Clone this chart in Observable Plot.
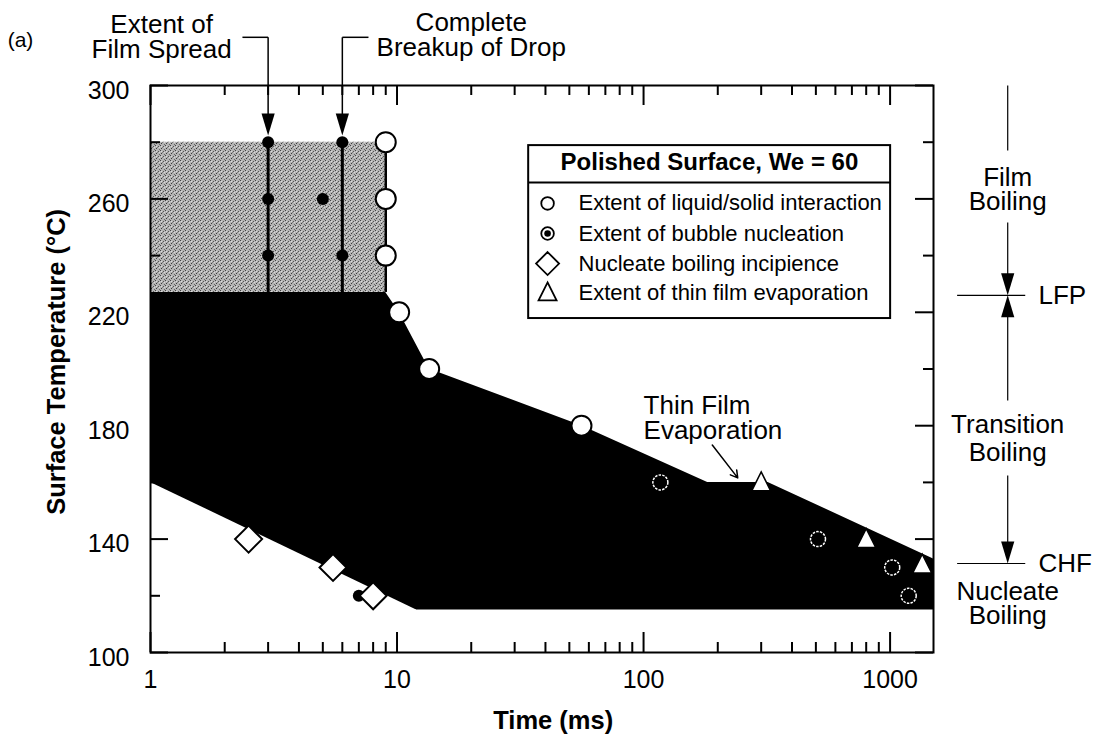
<!DOCTYPE html>
<html>
<head>
<meta charset="utf-8">
<script src="https://cdn.jsdelivr.net/npm/d3@7"></script>
<script src="https://cdn.jsdelivr.net/npm/@observablehq/plot@0.6"></script>
<style>
html, body { margin: 0; padding: 0; background: #fff; }
#chart svg { display: block; }
</style>
</head>
<body>
<svg width="0" height="0" style="position:absolute">
  <defs>
    <pattern id="grain" width="5" height="5" patternUnits="userSpaceOnUse">
      <rect width="5" height="5" fill="#b4b4b4"></rect>
      <rect x="0" y="0" width="1" height="1" fill="#444"></rect>
      <rect x="3" y="1" width="1" height="1" fill="#555"></rect>
      <rect x="1" y="3" width="1" height="1" fill="#3a3a3a"></rect>
      <rect x="4" y="4" width="1" height="1" fill="#666"></rect>
      <rect x="2" y="2" width="1" height="1" fill="#7a7a7a"></rect>
      <rect x="4" y="2" width="1" height="1" fill="#d8d8d8"></rect>
      <rect x="1" y="1" width="1" height="1" fill="#dcdcdc"></rect>
    </pattern>
  </defs>
</svg>
<div id="chart"></div>
<script>
// ---------------- data (time in ms, temperature in °C) ----------------
// Extent of liquid/solid interaction (open circles) on the envelope
const interactionTime = [9, 9, 9, 10.2, 13.5, 56];
const interactionTemp = [280, 260, 240, 220, 200, 180];
// Extent of liquid/solid interaction inside the dark region
const interactionInnerTime = [117, 510, 1020, 1190];
const interactionInnerTemp = [160, 140, 130, 120];
// Extent of bubble nucleation
const bubbleTime = [3, 3, 3, 5, 6, 6, 7];
const bubbleTemp = [280, 260, 240, 260, 280, 240, 120];
// Nucleate boiling incipience
const incipienceTime = [2.5, 5.5, 8];
const incipienceTemp = [140, 130, 120];
// Extent of thin film evaporation
const thinFilmTime = [300, 800, 1350];
const thinFilmTemp = [160, 140, 131];
// Envelope of the liquid/solid interaction region (black)
const envelopeUpperTime = [1, 9, 10.2, 13.5, 56, 182, 320, 1500];
const envelopeUpperTemp = [227, 227, 220, 200, 180, 160, 160, 133];
const envelopeLowerTime = [1, 12];
const envelopeLowerTemp = [160, 115];
const envelopeBaseTemp = 115;
// Film boiling region (grey)
const filmRegionTime = [1, 9];
const filmRegionTemp = [227, 280];
// Film spread / breakup times
const spreadTime = 3;
const breakupTime = 6;
// Boiling regime boundaries
const LFP = 226;
const CHF = 131.4;
// Axis ticks
const xTicksMajor = [1, 10, 100, 1000];
const xTickLabels = ["1", "10", "100", "1000"];
const xTicksMinor = [2,3,4,5,6,7,8,9, 20,30,40,50,60,70,80,90, 200,300,400,500,600,700,800,900];
const yTicksMajor = [100, 140, 180, 220, 260, 300];
const yTickLabels = ["100", "140", "180", "220", "260", "300"];
const yTicksMinor = [120, 160, 200, 240, 280];
const legendLabels = [
  "Extent of liquid/solid interaction",
  "Extent of bubble nucleation",
  "Nucleate boiling incipience",
  "Extent of thin film evaporation"
];
const legendTitle = "Polished Surface, We = 60";

// ---------------- build tables ----------------
const zip = (xs, ys) => xs.map((x, i) => ({t: x, T: ys[i]}));
const interaction = zip(interactionTime, interactionTemp);
const interactionInner = zip(interactionInnerTime, interactionInnerTemp);
const bubble = zip(bubbleTime, bubbleTemp);
const incipience = zip(incipienceTime, incipienceTemp);
const thinFilm = zip(thinFilmTime, thinFilmTemp);
const envUpper = zip(envelopeUpperTime, envelopeUpperTemp);
const envLower = zip(envelopeLowerTime, envelopeLowerTemp);
const xMajor = xTicksMajor.map((v, i) => ({v, label: xTickLabels[i]}));
const yMajor = yTicksMajor.map((v, i) => ({v, label: yTickLabels[i]}));

// ---------------- layout ----------------
const W = 1100, H = 739;
const mL = 150, mR = 167, mT = 85, mB = 87;
const frameW = W - mL - mR, frameH = H - mT - mB;
const font = "'Liberation Sans', Arial, Helvetica, sans-serif";

// custom symbols
const rOf = size => Math.sqrt(size / Math.PI);
const symDiamond = {draw(c, s) { const r = rOf(s); c.moveTo(0, -r); c.lineTo(r, 0); c.lineTo(0, r); c.lineTo(-r, 0); c.closePath(); }};
const symTriangle = {draw(c, s) { const r = rOf(s); c.moveTo(0, -r); c.lineTo(0.9 * r, 0.8 * r); c.lineTo(-0.9 * r, 0.8 * r); c.closePath(); }};
const symArrowDown = {draw(c, s) { const r = rOf(s); c.moveTo(0, 0); c.lineTo(0.3 * r, -r); c.lineTo(-0.3 * r, -r); c.closePath(); }};
const symArrowUp = {draw(c, s) { const r = rOf(s); c.moveTo(0, 0); c.lineTo(0.3 * r, r); c.lineTo(-0.3 * r, r); c.closePath(); }};

// annotation anchor positions (data space)
const regimeX = 3000;
const legendX1 = 34.2, legendX2 = 1005, legendTop = 278.8, legendBottom = 217.8, legendDivider = 265.8;
const legendSymX = 40.8, legendTextX = 54.5;
const legendRowsT = [258.4, 247.8, 237.2, 227];

const one = [0];

const chart = Plot.plot({
  width: W, height: H,
  marginLeft: mL, marginRight: mR, marginTop: mT, marginBottom: mB,
  x: {type: "log", domain: [1, 1500], axis: null},
  y: {domain: [100, 300], axis: null},
  style: {fontFamily: font, fontSize: "25px", background: "white", color: "black", overflow: "visible"},
  marks: [
    // black envelope region
    Plot.areaY(envUpper, {x: "t", y1: envelopeBaseTemp, y2: "T", fill: "black"}),
    Plot.areaY(envLower, {x: "t", y1: 100, y2: "T", fill: "white"}),
    // grey film-boiling region
    Plot.rect(one, {x1: filmRegionTime[0], x2: filmRegionTime[1], y1: filmRegionTemp[0], y2: filmRegionTemp[1], fill: "url(#grain)"}),
    // vertical lines
    Plot.ruleX([spreadTime, breakupTime], {y1: filmRegionTemp[0] - 0.5, y2: filmRegionTemp[1], stroke: "black", strokeWidth: 3}),
    Plot.ruleX([filmRegionTime[1]], {y1: filmRegionTemp[0], y2: filmRegionTemp[1], stroke: "black", strokeWidth: 2.5}),
    // bubble nucleation
    Plot.dot(bubble, {x: "t", y: "T", r: 6, fill: "black"}),
    // interaction circles
    Plot.dot(interaction, {x: "t", y: "T", r: 10, fill: "white", stroke: "black", strokeWidth: 2}),
    Plot.dot(interactionInner, {x: "t", y: "T", r: 7.5, fill: "none", stroke: "white", strokeWidth: 1.5, strokeDasharray: "2.5,1.2"}),
    // incipience diamonds
    Plot.dot(incipience, {x: "t", y: "T", symbol: symDiamond, r: 13.5, fill: "white", stroke: "black", strokeWidth: 2}),
    // thin film triangles
    Plot.dot(thinFilm, {x: "t", y: "T", symbol: symTriangle, r: 10.5, fill: "white", stroke: "black", strokeWidth: 1.5}),

    // frame and ticks
    Plot.frame({stroke: "black", strokeWidth: 2}),
    Plot.tickX(xTicksMajor, {x: d => d, insetTop: frameH - 20, strokeWidth: 2}),
    Plot.tickX(xTicksMajor, {x: d => d, insetBottom: frameH - 20, strokeWidth: 2}),
    Plot.tickX(xTicksMinor, {x: d => d, insetTop: frameH - 10, strokeWidth: 2}),
    Plot.tickX(xTicksMinor, {x: d => d, insetBottom: frameH - 10, strokeWidth: 2}),
    Plot.tickY(yTicksMajor, {y: d => d, insetRight: frameW - 18, strokeWidth: 2}),
    Plot.tickY(yTicksMajor, {y: d => d, insetLeft: frameW - 18, strokeWidth: 2}),
    Plot.tickY(yTicksMinor, {y: d => d, insetRight: frameW - 10, strokeWidth: 2}),
    Plot.tickY(yTicksMinor, {y: d => d, insetLeft: frameW - 10, strokeWidth: 2}),
    // tick labels
    Plot.text(xMajor, {x: "v", text: "label", frameAnchor: "bottom", dy: 35, fontSize: 25}),
    Plot.text(yMajor, {y: "v", text: "label", frameAnchor: "left", textAnchor: "end", dx: -21, dy: 5, fontSize: 25}),
    // axis titles
    Plot.text(["Time (ms)"], {x: 43, y: 76, text: d => d, fontWeight: "bold", fontSize: 25.5}),
    Plot.text(["Surface Temperature (°C)"], {x: 0.415, y: 202.5, text: d => d, rotate: -90, fontWeight: "bold", fontSize: 25.5}),
    Plot.text(["(a)"], {x: 0.297, y: 315.9, text: d => d, fontSize: 21}),

    // top annotations
    Plot.text(["Extent of\nFilm Spread"], {x: 1.11, y: 316.8, text: d => d, fontSize: 26, lineHeight: 0.96}),
    Plot.link(one, {x1: 2.36, x2: spreadTime, y1: 317, y2: 317, stroke: "black", strokeWidth: 1.5}),
    Plot.link(one, {x1: spreadTime, x2: spreadTime, y1: 317, y2: 285, stroke: "black", strokeWidth: 1.5}),
    Plot.text(["Complete\nBreakup of Drop"], {x: 20, y: 317.6, text: d => d, fontSize: 26, lineHeight: 0.96}),
    Plot.link(one, {x1: 7.66, x2: breakupTime, y1: 317, y2: 317, stroke: "black", strokeWidth: 1.5}),
    Plot.link(one, {x1: breakupTime, x2: breakupTime, y1: 317, y2: 285, stroke: "black", strokeWidth: 1.5}),
    Plot.dot([spreadTime, breakupTime], {x: d => d, y: 282.4, symbol: symArrowDown, r: 22, fill: "black"}),

    // thin film evaporation label
    Plot.text(["Thin Film\nEvaporation"], {x: 100, y: 182.7, text: d => d, textAnchor: "start", fontSize: 26, lineHeight: 0.96}),
    Plot.arrow(one, {x1: 190, y1: 173.2, x2: 241, y2: 161.6, stroke: "black", strokeWidth: 1.5, headLength: 8}),

    // boiling regimes (right)
    Plot.link(one, {x1: regimeX, x2: regimeX, y1: 300, y2: 277.1, stroke: "black", strokeWidth: 1.2}),
    Plot.text(["Film\nBoiling"], {x: regimeX, y: 263, text: d => d, fontSize: 26, lineHeight: 0.93}),
    Plot.link(one, {x1: regimeX, x2: regimeX, y1: 251.7, y2: LFP + 3, stroke: "black", strokeWidth: 1.2}),
    Plot.dot(one, {x: regimeX, y: LFP, symbol: symArrowDown, r: 22, fill: "black"}),
    Plot.dot(one, {x: regimeX, y: LFP, symbol: symArrowUp, r: 22, fill: "black"}),
    Plot.link(one, {x1: regimeX, x2: regimeX, y1: LFP - 3, y2: 188.9, stroke: "black", strokeWidth: 1.2}),
    Plot.ruleY([LFP], {x1: 1879, x2: 3550, stroke: "black", strokeWidth: 1.2}),
    Plot.text(["LFP"], {x: 4000, y: LFP, text: d => d, textAnchor: "start", fontSize: 26}),
    Plot.text(["Transition\nBoiling"], {x: regimeX, y: 175.7, text: d => d, fontSize: 26, lineHeight: 1.1}),
    Plot.link(one, {x1: regimeX, x2: regimeX, y1: 162.4, y2: CHF + 3, stroke: "black", strokeWidth: 1.2}),
    Plot.dot(one, {x: regimeX, y: CHF, symbol: symArrowDown, r: 22, fill: "black"}),
    Plot.ruleY([CHF], {x1: 1879, x2: 3550, stroke: "black", strokeWidth: 1.2}),
    Plot.text(["CHF"], {x: 4000, y: CHF, text: d => d, textAnchor: "start", fontSize: 26}),
    Plot.text(["Nucleate\nBoiling"], {x: regimeX, y: 117.1, text: d => d, fontSize: 26, lineHeight: 0.96}),

    // legend
    Plot.rect(one, {x1: legendX1, x2: legendX2, y1: legendBottom, y2: legendTop, fill: "white", stroke: "black", strokeWidth: 2}),
    Plot.ruleY([legendDivider], {x1: legendX1, x2: legendX2, stroke: "black", strokeWidth: 2}),
    Plot.text([legendTitle], {x: 185, y: 272.8, text: d => d, fontWeight: "bold", fontSize: 24}),
    Plot.text(legendLabels, {x: legendTextX, y: (d, i) => legendRowsT[i], text: d => d, textAnchor: "start", fontSize: 22}),
    Plot.dot(one, {x: legendSymX, y: legendRowsT[0], r: 6.3, fill: "white", stroke: "black", strokeWidth: 1.8}),
    Plot.dot(one, {x: legendSymX, y: legendRowsT[1], r: 6.3, fill: "white", stroke: "black", strokeWidth: 1.8}),
    Plot.dot(one, {x: legendSymX, y: legendRowsT[1], r: 3.3, fill: "black"}),
    Plot.dot(one, {x: legendSymX, y: legendRowsT[2], symbol: symDiamond, r: 11.5, fill: "white", stroke: "black", strokeWidth: 1.8}),
    Plot.dot(one, {x: legendSymX, y: legendRowsT[3], symbol: symTriangle, r: 10, fill: "white", stroke: "black", strokeWidth: 1.8})
  ]
});
document.getElementById("chart").appendChild(chart);
</script>
</body>
</html>
